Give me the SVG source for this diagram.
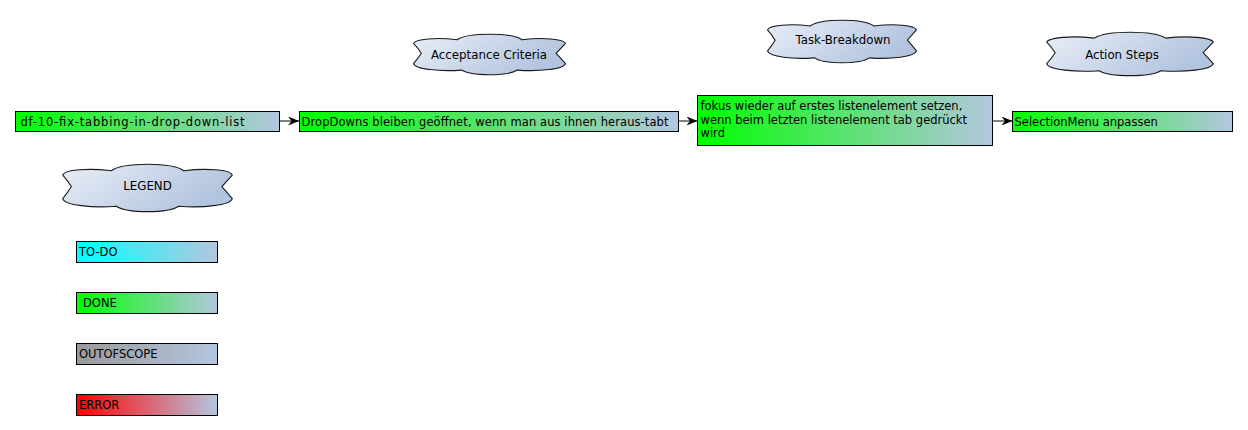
<svg xmlns="http://www.w3.org/2000/svg" width="1248" height="430" viewBox="0 0 1248 430">
<style>
text{font-family:"DejaVu Sans","Liberation Sans",sans-serif;font-size:11.5px;fill:#000}
.box{stroke:#000;stroke-width:1}
.cloud{fill:url(#gCloud);stroke:#1a1a1a;stroke-width:1.1}
.conn{stroke:#000;stroke-width:1;fill:none}
.ct{text-anchor:middle;font-size:11.8px}
</style>
<defs>
<linearGradient id="gDone" x1="0" y1="0" x2="1" y2="0"><stop offset="0" stop-color="#00ff00"/><stop offset="1" stop-color="#b4c6e0"/></linearGradient>
<linearGradient id="gTodo" x1="0" y1="0" x2="1" y2="0"><stop offset="0" stop-color="#00ffff"/><stop offset="1" stop-color="#b4c6e0"/></linearGradient>
<linearGradient id="gOut" x1="0" y1="0" x2="1" y2="0"><stop offset="0" stop-color="#9a9a9a"/><stop offset="1" stop-color="#b4c6e0"/></linearGradient>
<linearGradient id="gErr" x1="0" y1="0" x2="1" y2="0"><stop offset="0" stop-color="#ff0000"/><stop offset="1" stop-color="#b4c6e0"/></linearGradient>
<linearGradient id="gCloud" x1="0" y1="0" x2="1" y2="0.4"><stop offset="0" stop-color="#e9eef7"/><stop offset="1" stop-color="#b2c4df"/></linearGradient>
<marker id="arr" markerWidth="11" markerHeight="9" refX="11" refY="4.5" orient="auto" markerUnits="userSpaceOnUse"><path d="M0,0 L11,4.5 L0,9 L3.5,4.5 Z" fill="#000"/></marker>
</defs>
<rect width="1248" height="430" fill="#fff"/>

<g id="cloud-acceptance">
<path class="cloud" vector-effect="non-scaling-stroke" transform="translate(412,34) scale(1.55,0.41)" d="M 6,47 Q 4,35 1,23 C 2,12 16,8 29,14 C 36,-4 64,-4 71,14 C 84,8 98,12 99,23 Q 96,35 93,47 Q 96,59 99,72 C 98,86 82,92 68,88 C 62,103 38,103 32,88 C 18,92 2,86 1,72 Q 4,59 6,47 Z"/>
<text class="ct" x="489" y="58.5">Acceptance Criteria</text>
</g>
<g id="cloud-task">
<path class="cloud" vector-effect="non-scaling-stroke" transform="translate(766,20) scale(1.52,0.43)" d="M 6,47 Q 4,35 1,23 C 2,12 16,8 29,14 C 36,-4 64,-4 71,14 C 84,8 98,12 99,23 Q 96,35 93,47 Q 96,59 99,72 C 98,86 82,92 68,88 C 62,103 38,103 32,88 C 18,92 2,86 1,72 Q 4,59 6,47 Z"/>
<text class="ct" x="843" y="44">Task-Breakdown</text>
</g>
<g id="cloud-action">
<path class="cloud" vector-effect="non-scaling-stroke" transform="translate(1045,32) scale(1.70,0.44)" d="M 6,47 Q 4,35 1,23 C 2,12 16,8 29,14 C 36,-4 64,-4 71,14 C 84,8 98,12 99,23 Q 96,35 93,47 Q 96,59 99,72 C 98,86 82,92 68,88 C 62,103 38,103 32,88 C 18,92 2,86 1,72 Q 4,59 6,47 Z"/>
<text class="ct" x="1122" y="59">Action Steps</text>
</g>
<g id="cloud-legend">
<path class="cloud" vector-effect="non-scaling-stroke" transform="translate(61,164) scale(1.73,0.48)" d="M 6,47 Q 4,35 1,23 C 2,12 16,8 29,14 C 36,-4 64,-4 71,14 C 84,8 98,12 99,23 Q 96,35 93,47 Q 96,59 99,72 C 98,86 82,92 68,88 C 62,103 38,103 32,88 C 18,92 2,86 1,72 Q 4,59 6,47 Z"/>
<text class="ct" x="147.5" y="190">LEGEND</text>
</g>

<g id="connectors">
<line class="conn" x1="279.5" y1="121" x2="299" y2="121" marker-end="url(#arr)"/>
<line class="conn" x1="679" y1="121" x2="697.5" y2="121" marker-end="url(#arr)"/>
<line class="conn" x1="993" y1="121" x2="1012.5" y2="121" marker-end="url(#arr)"/>
</g>

<g id="node-story">
<rect class="box" x="15.5" y="111.5" width="264" height="20" fill="url(#gDone)"/>
<text x="20.5" y="125.5" textLength="224" lengthAdjust="spacing">df-10-fix-tabbing-in-drop-down-list</text>
</g>
<g id="node-criteria">
<rect class="box" x="299.5" y="111.5" width="379" height="20" fill="url(#gDone)"/>
<text x="301.5" y="125.5" textLength="367" lengthAdjust="spacing">DropDowns bleiben geöffnet, wenn man aus ihnen heraus-tabt</text>
</g>
<g id="node-task">
<rect class="box" x="697.5" y="95.5" width="295" height="50" fill="url(#gDone)"/>
<text x="700.5" y="110">fokus wieder auf erstes listenelement setzen,</text>
<text x="700.5" y="123.5">wenn beim letzten listenelement tab gedrückt</text>
<text x="700.5" y="137">wird</text>
</g>
<g id="node-action">
<rect class="box" x="1012.5" y="111.5" width="220" height="20" fill="url(#gDone)"/>
<text x="1014.5" y="125.5">SelectionMenu anpassen</text>
</g>

<g id="legend-todo">
<rect class="box" x="76.5" y="241.5" width="141" height="21" fill="url(#gTodo)"/>
<text x="79" y="255.5">TO-DO</text>
</g>
<g id="legend-done">
<rect class="box" x="76.5" y="292.5" width="141" height="21" fill="url(#gDone)"/>
<text x="83" y="306.5">DONE</text>
</g>
<g id="legend-outofscope">
<rect class="box" x="76.5" y="343.5" width="141" height="21" fill="url(#gOut)"/>
<text x="79" y="357.5">OUTOFSCOPE</text>
</g>
<g id="legend-error">
<rect class="box" x="76.5" y="394.5" width="141" height="21" fill="url(#gErr)"/>
<text x="79" y="408.5">ERROR</text>
</g>
</svg>
